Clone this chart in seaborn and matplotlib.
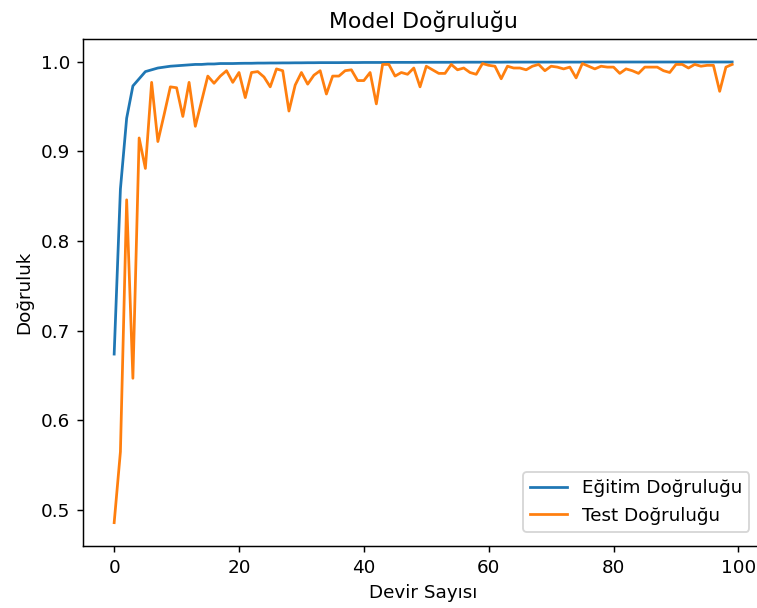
import numpy as np
import pandas as pd
import seaborn as sns
import matplotlib
matplotlib.use("Agg")
import matplotlib.pyplot as plt

# accuracy history per epoch
train_acc = [0.674, 0.858, 0.937, 0.973, 0.981, 0.989, 0.991, 0.993, 0.994, 0.995,
             0.9955, 0.996, 0.9965, 0.997, 0.997, 0.9975, 0.9975, 0.998, 0.998, 0.998,
             0.9982, 0.9983, 0.9983, 0.9985, 0.9985, 0.9986, 0.9986, 0.9987, 0.9987, 0.9988,
             0.9988, 0.9989, 0.9989, 0.999, 0.999, 0.999, 0.999, 0.9991, 0.9991, 0.9991,
             0.9992, 0.9992, 0.9992, 0.9992, 0.9993, 0.9993, 0.9993, 0.9993, 0.9993, 0.9994,
             0.9994, 0.9994, 0.9994, 0.9994, 0.9994, 0.9995, 0.9995, 0.9995, 0.9995, 0.9995,
             0.9995, 0.9995, 0.9995, 0.9996, 0.9996, 0.9996, 0.9996, 0.9996, 0.9996, 0.9996,
             0.9996, 0.9996, 0.9996, 0.9996, 0.9996, 0.9996, 0.9997, 0.9997, 0.9997, 0.9997,
             0.9997, 0.9997, 0.9997, 0.9997, 0.9997, 0.9997, 0.9997, 0.9997, 0.9997, 0.9997,
             0.9997, 0.9997, 0.9997, 0.9997, 0.9997, 0.9997, 0.9997, 0.9997, 0.9997, 0.9997]

test_acc = [0.486, 0.565, 0.846, 0.647, 0.915, 0.881, 0.977, 0.911, 0.941, 0.972,
            0.971, 0.939, 0.977, 0.928, 0.956, 0.984, 0.976, 0.984, 0.990, 0.977,
            0.988, 0.960, 0.988, 0.989, 0.983, 0.972, 0.992, 0.990, 0.945, 0.974,
            0.988, 0.975, 0.985, 0.990, 0.964, 0.984, 0.984, 0.990, 0.991, 0.979,
            0.979, 0.988, 0.953, 0.997, 0.997, 0.984, 0.988, 0.986, 0.993, 0.972,
            0.995, 0.991, 0.987, 0.987, 0.997, 0.991, 0.993, 0.988, 0.986, 0.998,
            0.996, 0.995, 0.981, 0.995, 0.993, 0.993, 0.991, 0.995, 0.997, 0.990,
            0.995, 0.994, 0.992, 0.994, 0.982, 0.998, 0.995, 0.992, 0.995, 0.994,
            0.994, 0.987, 0.992, 0.990, 0.987, 0.994, 0.994, 0.994, 0.990, 0.988,
            0.997, 0.997, 0.993, 0.997, 0.995, 0.996, 0.996, 0.967, 0.994, 0.997]

epochs = list(range(len(train_acc)))

df = pd.DataFrame({'epoch': epochs, 'train': train_acc, 'test': test_acc})

# reference looks like a default matplotlib figure rendered at ~132 dpi
dpi = 132
fig = plt.figure(figsize=(757 / dpi, 608 / dpi), dpi=dpi)
ax = fig.add_axes([0.110, 0.1025, 0.898, 0.8334])

sns.lineplot(data=df, x='epoch', y='train', ax=ax, color='tab:blue', label='Eğitim Doğruluğu')
sns.lineplot(data=df, x='epoch', y='test', ax=ax, color='tab:orange', label='Test Doğruluğu')

ax.set_title('Model Doğruluğu')
ax.set_xlabel('Devir Sayısı')
ax.set_ylabel('Doğruluk')
ax.legend(loc='lower right', borderaxespad=0.75)

# the right edge of the axes falls just outside the cropped image
ax.spines['right'].set_visible(False)

fig.savefig('out.png', dpi=dpi)
